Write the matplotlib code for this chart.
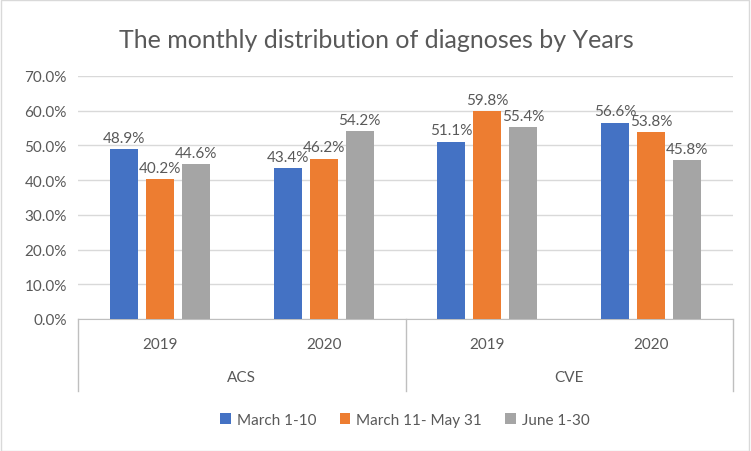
import matplotlib.pyplot as plt
import numpy as np

plt.rcParams["font.family"] = ["Lato", "DejaVu Sans"]

groups = ["ACS", "CVE"]
years = ["2019", "2020", "2019", "2020"]
series = ["March 1-10", "March 11- May 31", "June 1-30"]
march_1_10 = [48.9, 43.4, 51.1, 56.6]
march_11_may_31 = [40.2, 46.2, 59.8, 53.8]
june_1_30 = [44.6, 54.2, 55.4, 45.8]
colors = ["#4472C4", "#ED7D31", "#A5A5A5"]
text_c = "#595959"

fig = plt.figure(figsize=(7.51, 4.52), dpi=100)
ax = fig.add_axes([78 / 751, 1 - 320 / 452, 655 / 751, 243 / 452])

x = np.arange(len(years))
w = 28 / 163.75
step = 36 / 163.75
for i, (name, vals) in enumerate(zip(series, [march_1_10, march_11_may_31, june_1_30])):
    pos = x + (i - 1) * step
    ax.bar(pos, vals, w, color=colors[i], label=name, zorder=3)
    for p, v in zip(pos, vals):
        ax.text(p, v + 1.2, f"{v:.1f}%", ha="center", va="bottom", fontsize=11, color=text_c)

ax.set_xlim(-0.5, 3.5)
ax.set_ylim(0, 70)
ax.set_yticks(np.arange(0, 71, 10))
ax.set_yticklabels([f"{t:.1f}%" for t in range(0, 71, 10)], fontsize=11, color=text_c)
ax.tick_params(axis="y", length=0, pad=8)
ax.set_xticks([])
ax.grid(axis="y", color="#D9D9D9", linewidth=1, zorder=0)
for s in ["top", "right", "left"]:
    ax.spines[s].set_visible(False)
ax.spines["bottom"].set_color("#BFBFBF")

# multi-level category axis
yb = -72 / 243
for xs in [-0.5, 1.5, 3.5]:
    ax.plot([xs, xs], [0, yb], transform=ax.get_xaxis_transform(), color="#BFBFBF",
            lw=1, clip_on=False)
for xi, yr in zip(x, years):
    ax.text(xi, -25 / 243, yr, transform=ax.get_xaxis_transform(), ha="center",
            va="center", fontsize=11, color=text_c)
for gi, g in enumerate(groups):
    ax.text(0.5 + 2 * gi, -58 / 243, g, transform=ax.get_xaxis_transform(), ha="center",
            va="center", fontsize=11, color=text_c)

fig.text(376 / 751, 1 - 40 / 452, "The monthly distribution of diagnoses by Years",
         ha="center", va="center", fontsize=18, color=text_c)
fig.legend(loc="center", bbox_to_anchor=(405 / 751, 1 - 421 / 452), ncol=3, frameon=False,
           fontsize=11, handlelength=0.7, handleheight=0.7, columnspacing=1.5,
           handletextpad=0.4, labelcolor=text_c)
fig.add_artist(plt.Rectangle((0.001, 0.001), 0.997, 0.997, transform=fig.transFigure,
                             fill=False, edgecolor="#D9D9D9", lw=1))
fig.savefig("out.png", dpi=100)
